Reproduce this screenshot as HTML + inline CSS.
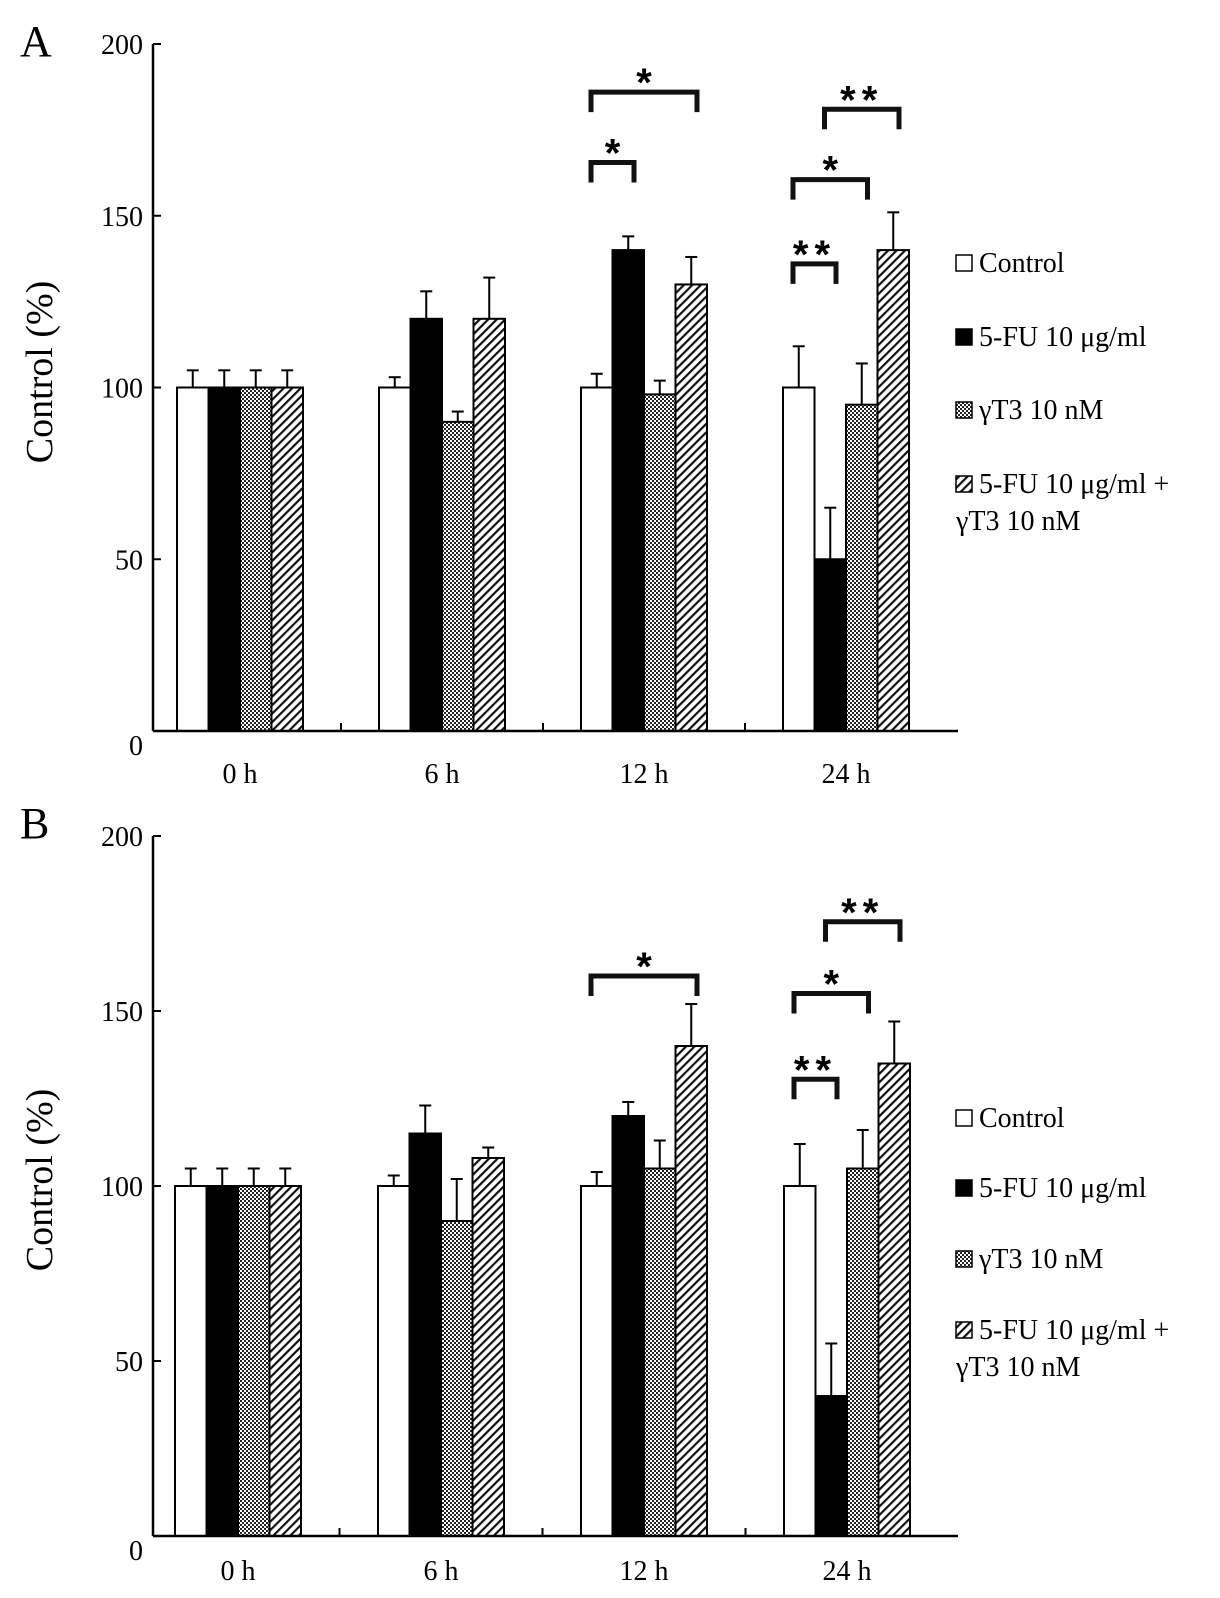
<!DOCTYPE html>
<html><head><meta charset="utf-8">
<style>
html,body{margin:0;padding:0;background:#fff;}
svg{display:block;font-family:"Liberation Serif",serif;}
svg text{font-family:"Liberation Serif",serif;}
svg text.star{font-family:"Liberation Sans",sans-serif;}
</style></head>
<body>
<svg id="fig" width="1220" height="1598" viewBox="0 0 1220 1598" xmlns="http://www.w3.org/2000/svg">
<defs>
<pattern id="checks" width="4" height="4" patternUnits="userSpaceOnUse">
<rect width="4" height="4" fill="#fff"/>
<rect width="2" height="2" fill="#222"/><rect x="2" y="2" width="2" height="2" fill="#222"/>
</pattern>
<pattern id="hatch" width="6" height="6" patternUnits="userSpaceOnUse" patternTransform="rotate(45)">
<rect width="6" height="6" fill="#fff"/>
<rect x="0" y="0" width="2.2" height="6" fill="#111"/>
</pattern>
</defs>
</svg>
<script>
const categories = ["0 h", "6 h", "12 h", "24 h"];
const seriesNames = ["Control", "5-FU 10 μg/ml", "γT3 10 nM", "5-FU 10 μg/ml +|γT3 10 nM"];
const yTicks = [0, 50, 100, 150, 200];
// Panel A
const aControl = [100, 100, 100, 100];
const aFU = [100, 120, 140, 50];
const aT3 = [100, 90, 98, 95];
const aCombo = [100, 120, 130, 140];
const aControlErr = [5, 3, 4, 12];
const aFUErr = [5, 8, 4, 15];
const aT3Err = [5, 3, 4, 12];
const aComboErr = [5, 12, 8, 11];
// Panel B
const bControl = [100, 100, 100, 100];
const bFU = [100, 115, 120, 40];
const bT3 = [100, 90, 105, 105];
const bCombo = [100, 108, 140, 135];
const bControlErr = [5, 3, 4, 12];
const bFUErr = [5, 8, 4, 15];
const bT3Err = [5, 12, 8, 11];
const bComboErr = [5, 3, 12, 12];
// significance: [category, fromSeries, toSeries, level (value), label]
const aSig = [[2,0,3,186,"*"],[2,0,1,165.5,"*"],[3,1,3,181,"**"],[3,0,2,160.5,"*"],[3,0,1,136,"**"]];
const bSig = [[2,0,3,160,"*"],[3,1,3,175.5,"**"],[3,0,2,155,"*"],[3,0,1,130.5,"**"]];

const NS = "http://www.w3.org/2000/svg";
const svg = document.getElementById("fig");
function el(tag, attrs, parent){
  const e = document.createElementNS(NS, tag);
  for (const k in attrs) e.setAttribute(k, attrs[k]);
  (parent||svg).appendChild(e);
  return e;
}
const fills = ["#fff", "#000", "url(#checks)", "url(#hatch)"];

function panel(cfg){
  const g = el("g", {});
  
  
  const y = v => cfg.y0 - (v/200)*(cfg.y0 - cfg.y200);
  const groupStart = i => cfg.x0 + i*cfg.step;
  const barW = 31.5;
  const barX = (i,s) => groupStart(i) + s*barW;
  const L = el("text", {x:20, y:cfg.letterY, "font-size":44}, g);
  L.textContent = cfg.letter;
  
  
  const t = el("text", {x:0, y:0, "font-size":38, "text-anchor":"middle", transform:`translate(52,${cfg.titleY}) rotate(-90)`}, g);
  t.textContent = "Control (%)";
  
  
  const series = cfg.series, errs = cfg.errs;
  for (let i=0;i<categories.length;i++){
    for (let s=0;s<4;s++){
      const v = series[s][i], e = errs[s][i];
      const cx = barX(i,s) + barW/2;
      const ln = el("line", {x1:cx, x2:cx, y1:y(v), y2:y(v+e), stroke:"#000", "stroke-width":2}, g);
      
      
      const cap = el("line", {x1:cx-6, x2:cx+6, y1:y(v+e), y2:y(v+e), stroke:"#000", "stroke-width":2}, g);
      
      
      const r = el("rect", {x:barX(i,s), y:y(v), width:barW, height:y(0)-y(v), fill:fills[s], stroke:"#000", "stroke-width":2}, g);
      
      
    }
    const lab = el("text", {x:groupStart(i)+2*barW, y:cfg.catY, "font-size":28, "text-anchor":"middle"}, g);
    lab.textContent = categories[i];
    
    
    if (i>0){
      const mx = (groupStart(i-1)+4*barW + groupStart(i))/2;
      const mt = el("line", {x1:mx, x2:mx, y1:y(0), y2:y(0)-8, stroke:"#000", "stroke-width":2}, g);
      
      
    }
  }
  const ya = el("line", {x1:153, x2:153, y1:y(200), y2:y(0), stroke:"#000", "stroke-width":2.5}, g);
  
  
  const xa = el("line", {x1:153, x2:958, y1:y(0), y2:y(0), stroke:"#000", "stroke-width":2.5}, g);
  
  
  yTicks.forEach(v=>{
    const tk = el("line", {x1:153, x2:161, y1:y(v), y2:y(v), stroke:"#000", "stroke-width":2}, g);
    
    
    const tl = el("text", {x:143, y:y(v)+(v===0?24:10), "font-size":28, "text-anchor":"end"}, g);
    tl.textContent = v;
    
    
  });
  cfg.sig.forEach(sg=>{
    const [c,a,b,lv,txt] = sg;
    const x1 = barX(c,a)+10, x2 = barX(c,b)+barW-10, yy = y(lv);
    const p = el("path", {d:`M${x1},${yy+20} V${yy} H${x2} V${yy+20}`, fill:"none", stroke:"#111", "stroke-width":5}, g);
    
    
    const st = el("text", {class:"star", x:(x1+x2)/2, y:yy+4, "font-size":40, "font-weight":"bold", "text-anchor":"middle", "letter-spacing":txt.length>1?"6":"0"}, g);
    st.textContent = txt;
    
    
  });
  cfg.legendY.forEach((ly,s)=>{
    const lg = el("g", {}, g);
    
    
    const sq = el("rect", {x:956, y:ly-8, width:16, height:16, fill:fills[s], stroke:"#000", "stroke-width":1.5}, lg);
    
    
    const parts = seriesNames[s].split("|");
    parts.forEach((p,k)=>{
      const tx = el("text", {x:k?956:979, y:ly+9+k*37, "font-size":28}, lg);
      tx.textContent = p;
      
      
    });
  });
}
panel({name:"panel-a", letter:"A", letterY:56, titleY:372, y0:731, y200:44, x0:177, step:202, catY:783,
  series:[aControl,aFU,aT3,aCombo], errs:[aControlErr,aFUErr,aT3Err,aComboErr], sig:aSig,
  legendY:[263,337,410,484]});
panel({name:"panel-b", letter:"B", letterY:838, titleY:1180, y0:1536, y200:836, x0:175, step:203, catY:1580,
  series:[bControl,bFU,bT3,bCombo], errs:[bControlErr,bFUErr,bT3Err,bComboErr], sig:bSig,
  legendY:[1118,1188,1259,1330]});
</script>
</body></html>
